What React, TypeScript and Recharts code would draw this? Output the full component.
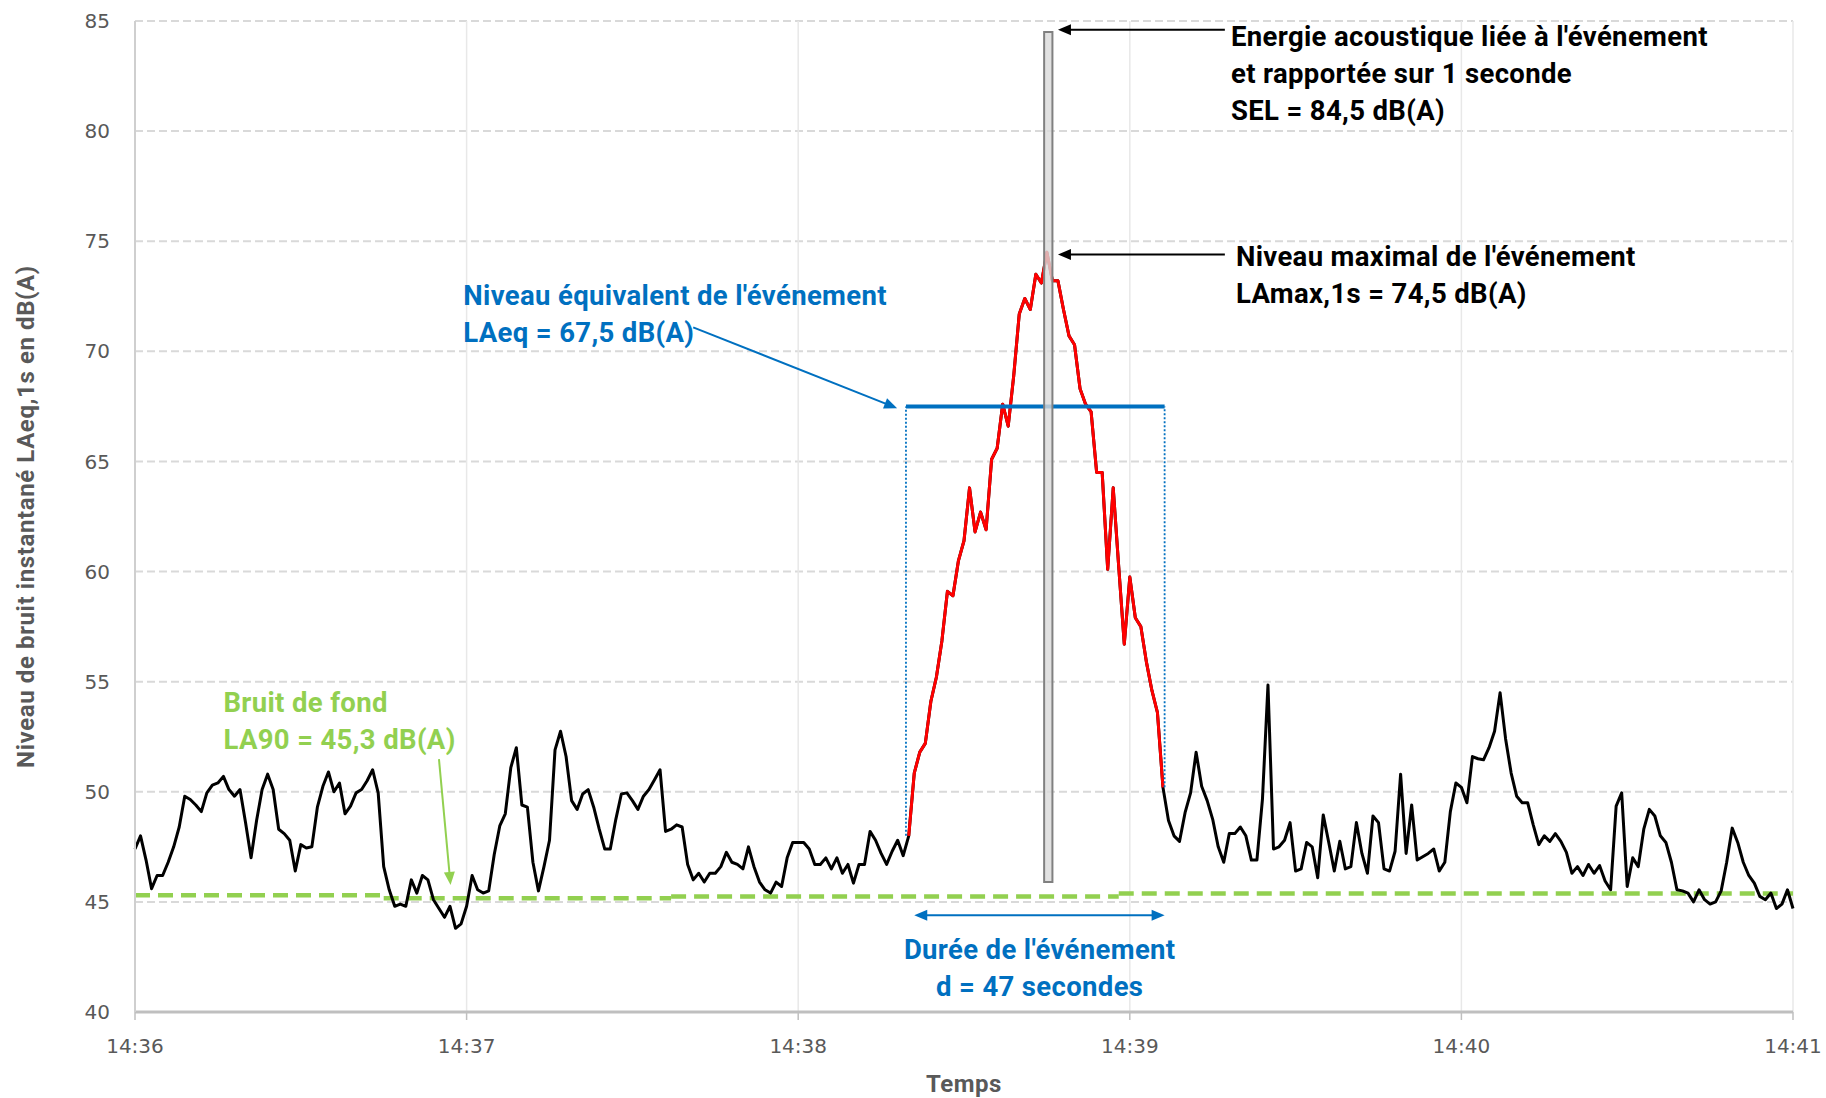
import React from 'react';
import {
  ComposedChart,
  Line,
  XAxis,
  YAxis,
  CartesianGrid,
  ReferenceLine,
  ReferenceArea,
  ReferenceDot,
  Label,
} from 'recharts';

// seconds since 14:36:00
const X_TICKS = [0, 60, 120, 180, 240, 300];
const X_LABELS = ['14:36', '14:37', '14:38', '14:39', '14:40', '14:41'];
const Y_TICKS = [40, 45, 50, 55, 60, 65, 70, 75, 80, 85];

// LAeq,1s in dB(A), one value per second
const LEVELS = [
  47.4, 48.0, 46.9, 45.6, 46.2, 46.2, 46.8, 47.5, 48.4, 49.8,
  49.65, 49.4, 49.1, 49.95, 50.3, 50.4, 50.7, 50.1, 49.8, 50.1,
  48.6, 47.0, 48.7, 50.1, 50.8, 50.1, 48.3, 48.1, 47.8, 46.4,
  47.6, 47.45, 47.5, 49.3, 50.25, 50.9, 50.0, 50.4, 49.0, 49.35,
  49.95, 50.1, 50.5, 51.0, 49.95, 46.6, 45.55, 44.8, 44.9, 44.8,
  46.0, 45.4, 46.2, 46.0, 45.1, 44.7, 44.3, 44.8, 43.8, 44.0,
  44.8, 46.2, 45.55, 45.4, 45.5, 47.15, 48.45, 49.0, 51.1, 52.0,
  49.4, 49.3, 46.8, 45.5, 46.6, 47.8, 51.9, 52.75, 51.6, 49.6,
  49.2, 49.9, 50.1, 49.3, 48.3, 47.4, 47.4, 48.75, 49.9, 49.95,
  49.6, 49.2, 49.8, 50.1, 50.55, 51.0, 48.2, 48.3, 48.5, 48.4,
  46.7, 46.0, 46.3, 45.9, 46.3, 46.3, 46.6, 47.25, 46.8, 46.7,
  46.5, 47.5, 46.6, 45.9, 45.55, 45.4, 45.9, 45.7, 47.0, 47.7,
  47.7, 47.7, 47.4, 46.7, 46.7, 47.0, 46.5, 47.0, 46.3, 46.7,
  45.85, 46.7, 46.7, 48.2, 47.8, 47.2, 46.7, 47.3, 47.8, 47.1,
  48.0, 50.85, 51.8, 52.2, 54.1, 55.2, 56.85, 59.1, 58.9, 60.5,
  61.4, 63.8, 61.8, 62.7, 61.9, 65.1, 65.6, 67.6, 66.6, 68.9,
  71.7, 72.4, 71.9, 73.5, 73.1, 74.5, 73.2, 73.2, 71.9, 70.7,
  70.3, 68.3, 67.6, 67.25, 64.5, 64.5, 60.1, 63.8, 60.2, 56.7,
  59.75, 57.9, 57.5, 55.9, 54.6, 53.6, 50.2, 48.7, 48.0, 47.75,
  49.05, 49.95, 51.8, 50.25, 49.6, 48.75, 47.5, 46.8, 48.1, 48.1,
  48.4, 48.0, 46.9, 46.9, 49.65, 54.85, 47.4, 47.5, 47.8, 48.6,
  46.4, 46.5, 47.7, 47.5, 46.1, 48.95, 47.7, 46.4, 47.75, 46.5,
  46.6, 48.6, 47.2, 46.3, 48.9, 48.6, 46.5, 46.4, 47.3, 50.8,
  47.2, 49.4, 46.9, 47.05, 47.2, 47.4, 46.4, 46.8, 49.1, 50.4,
  50.2, 49.5, 51.6, 51.5, 51.45, 52.0, 52.75, 54.5, 52.4, 50.85,
  49.8, 49.5, 49.5, 48.5, 47.6, 48.0, 47.75, 48.1, 47.75, 47.25,
  46.3, 46.6, 46.2, 46.7, 46.3, 46.65, 45.95, 45.55, 49.35, 49.95,
  45.7, 47.0, 46.6, 48.3, 49.2, 48.9, 48.0, 47.7, 46.8, 45.55,
  45.5, 45.4, 45.0, 45.55, 45.1, 44.9, 45.0, 45.5, 46.8, 48.35,
  47.7, 46.8, 46.2, 45.85, 45.25, 45.1, 45.4, 44.7, 44.9, 45.55,
  44.7,
];

// event seconds (red), and its bounds for LAeq / duration
const EVENT_FIRST = 140;
const EVENT_LAST = 186;
const EVENT_FROM = 139.5;
const EVENT_TO = 186.3;
const LAEQ = 67.5;

// background noise LA90, drawn in steps
const LA90_STEPS = [
  { from: 0, to: 45, value: 45.3 },
  { from: 45, to: 97, value: 45.17 },
  { from: 97, to: 178, value: 45.25 },
  { from: 178, to: 300, value: 45.38 },
];

// SEL column
const SEL = { from: 164.5, to: 166, base: 45.9, value: 84.5 };

const BLUE = '#0070c0';
const GREEN = '#92d050';
const GREY_TEXT = '#595959';
const FONT = 'Roboto, "Noto Sans", sans-serif';

const NOTES = [
  { t: 198.3, v: 84.28, color: '#000000', anchor: 'start', lines: ["Energie acoustique liée à l'événement", 'et rapportée sur 1 seconde', 'SEL = 84,5 dB(A)'] },
  { t: 199.2, v: 74.33, color: '#000000', anchor: 'start', lines: ["Niveau maximal de l'événement", 'LAmax,1s = 74,5 dB(A)'] },
  { t: 59.4, v: 72.52, color: BLUE, anchor: 'start', lines: ["Niveau équivalent de l'événement", 'LAeq = 67,5 dB(A)'] },
  { t: 16.0, v: 54.07, color: GREEN, anchor: 'start', lines: ['Bruit de fond', 'LA90 = 45,3 dB(A)'] },
  { t: 163.7, v: 42.86, color: BLUE, anchor: 'middle', lines: ["Durée de l'événement", 'd = 47 secondes'] },
];

const ARROWS = [
  { from: [197.2, 84.6], to: [167, 84.6], color: '#000000', both: false },
  { from: [197.2, 74.4], to: [167, 74.4], color: '#000000', both: false },
  { from: [101, 71.09], to: [137.9, 67.42], color: BLUE, both: false },
  { from: [55.0, 51.48], to: [57.1, 45.77], color: GREEN, both: false },
  { from: [141, 44.39], to: [EVENT_TO, 44.39], color: BLUE, both: true },
];

const data = LEVELS.map((level, t) => ({
  t,
  level,
  event: t >= EVENT_FIRST && t <= EVENT_LAST ? level : null,
}));

const arrowShape = (color: string, both: boolean) => (p: any) => {
  const { x1, y1, x2, y2 } = p;
  const len = Math.hypot(x2 - x1, y2 - y1) || 1;
  const ux = (x2 - x1) / len;
  const uy = (y2 - y1) / len;
  const head = 13;
  const half = 5.5;
  const tri = (tx: number, ty: number, dx: number, dy: number) => {
    const bx = tx - dx * head;
    const by = ty - dy * head;
    return `${tx},${ty} ${bx - dy * half},${by + dx * half} ${bx + dy * half},${by - dx * half}`;
  };
  const sx = both ? x1 + ux * head * 0.8 : x1;
  const sy = both ? y1 + uy * head * 0.8 : y1;
  return (
    <g>
      <line x1={sx} y1={sy} x2={x2 - ux * head * 0.8} y2={y2 - uy * head * 0.8} stroke={color} strokeWidth={2} />
      <polygon points={tri(x2, y2, ux, uy)} fill={color} />
      {both && <polygon points={tri(x1, y1, -ux, -uy)} fill={color} />}
    </g>
  );
};

const noteShape = (note: any) => (p: any) => (
  <text
    x={p.cx}
    y={p.cy}
    fill={note.color}
    fontSize={27.5}
    fontWeight={700}
    fontFamily={FONT}
    letterSpacing={0.35}
    textAnchor={note.anchor}
  >
    {note.lines.map((l: string, i: number) => (
      <tspan key={i} x={p.cx} dy={i === 0 ? '0.35em' : 37}>
        {l}
      </tspan>
    ))}
  </text>
);

const yTitle = (props: any) => {
  const vb = props.viewBox || { x: 0, y: 21, width: 135, height: 991 };
  const x = vb.x + 26;
  const y = vb.y + vb.height / 2;
  return (
    <text
      transform={`translate(${x},${y}) rotate(-90)`}
      textAnchor="middle"
      dy="0.35em"
      fill={GREY_TEXT}
      fontSize={24}
      fontWeight={700}
      fontFamily={FONT}
      letterSpacing={0.6}
    >
      Niveau de bruit instantané LAeq,1s en dB(A)
    </text>
  );
};

const xTitle = (props: any) => {
  const vb = props.viewBox || { x: 135, y: 1012, width: 1658, height: 86 };
  return (
    <text
      x={vb.x + vb.width / 2}
      y={vb.y + 72}
      dy="0.35em"
      textAnchor="middle"
      fill={GREY_TEXT}
      fontSize={24}
      fontWeight={700}
      fontFamily={FONT}
      letterSpacing={0.5}
    >
      Temps
    </text>
  );
};

export default function App() {
  return (
    <div style={{ position: 'absolute', left: 0, top: 0, width: 1826, height: 1098, background: '#fff' }}>
      <ComposedChart
        width={1826}
        height={1098}
        data={data}
        margin={{ top: 21, right: 33, bottom: 0, left: 0 }}
      >
        <CartesianGrid vertical={false} stroke="#d9d9d9" strokeWidth={2} strokeDasharray="8 4" />
        <CartesianGrid horizontal={false} stroke="#e8e8e8" strokeWidth={1.5} />
        <XAxis
          type="number"
          dataKey="t"
          domain={[0, 300]}
          ticks={X_TICKS}
          tickFormatter={(v: number) => X_LABELS[X_TICKS.indexOf(v)]}
          tick={{ fill: GREY_TEXT, fontSize: 20, fontFamily: 'DejaVu Sans' }}
          tickLine={{ stroke: '#bfbfbf', strokeWidth: 1.5 }}
          tickSize={8}
          tickMargin={19}
          axisLine={{ stroke: '#bfbfbf', strokeWidth: 3 }}
          height={86}
          interval={0}
        >
          <Label content={xTitle} />
        </XAxis>
        <YAxis
          type="number"
          domain={[40, 85]}
          ticks={Y_TICKS}
          tick={{ fill: GREY_TEXT, fontSize: 20, fontFamily: 'DejaVu Sans' }}
          tickLine={false}
          tickMargin={19}
          axisLine={{ stroke: '#cfcfcf', strokeWidth: 2 }}
          width={135}
          interval={0}
        >
          <Label content={yTitle} />
        </YAxis>

        {LA90_STEPS.map((s, i) => (
          <ReferenceLine
            key={`la90-${i}`}
            segment={[{ x: s.from, y: s.value }, { x: s.to, y: s.value }]}
            stroke={GREEN}
            strokeWidth={4.5}
            strokeDasharray="15 8"
            ifOverflow="visible"
          />
        ))}

        <Line
          type="linear"
          dataKey="level"
          stroke="#000000"
          strokeWidth={3}
          strokeLinejoin="round"
          dot={false}
          activeDot={false}
          isAnimationActive={false}
        />
        <Line
          type="linear"
          dataKey="event"
          stroke="#ff0000"
          strokeWidth={3}
          strokeLinejoin="round"
          dot={false}
          activeDot={false}
          isAnimationActive={false}
        />

        <ReferenceLine
          segment={[{ x: EVENT_FROM, y: LEVELS[EVENT_FIRST] }, { x: EVENT_FROM, y: LAEQ }]}
          stroke={BLUE}
          strokeWidth={1.8}
          strokeDasharray="2 2"
        />
        <ReferenceLine
          segment={[{ x: EVENT_TO, y: LEVELS[EVENT_LAST] }, { x: EVENT_TO, y: LAEQ }]}
          stroke={BLUE}
          strokeWidth={1.8}
          strokeDasharray="2 2"
        />
        <ReferenceLine
          segment={[{ x: EVENT_FROM, y: LAEQ }, { x: EVENT_TO, y: LAEQ }]}
          stroke={BLUE}
          strokeWidth={4}
        />

        <ReferenceArea
          x1={SEL.from}
          x2={SEL.to}
          y1={SEL.base}
          y2={SEL.value}
          fill="#d9d9d9"
          fillOpacity={0.8}
          stroke="#808080"
          strokeWidth={2}
          ifOverflow="visible"
          zIndex={450}
        />

        {ARROWS.map((a, i) => (
          <ReferenceLine
            key={`arrow-${i}`}
            segment={[{ x: a.from[0], y: a.from[1] }, { x: a.to[0], y: a.to[1] }]}
            stroke={a.color}
            shape={arrowShape(a.color, a.both)}
            ifOverflow="visible"
          />
        ))}

        {NOTES.map((n, i) => (
          <ReferenceDot
            key={`note-${i}`}
            x={n.t}
            y={n.v}
            r={0}
            shape={noteShape(n)}
            ifOverflow="visible"
          />
        ))}
      </ComposedChart>
    </div>
  );
}
